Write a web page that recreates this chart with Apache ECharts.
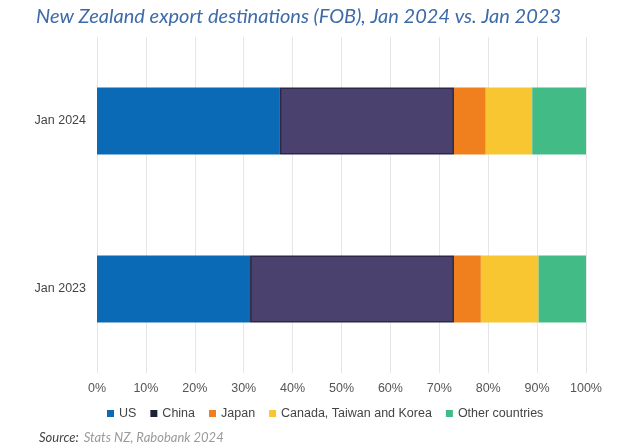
<!DOCTYPE html>
<html lang="en">
<head>
    <meta charset="UTF-8">
    <title>NZ export destinations</title>
    <script src="https://cdn.jsdelivr.net/npm/echarts@6/dist/echarts.min.js"></script>
    <style>
        body { margin: 0; background: #fff; }
    </style>
</head>
<body>
    <div id="main" style="width: 626px;height:448px;"></div>
    <script type="text/javascript">
        var categories = ['Jan 2024', 'Jan 2023'];
        var seriesNames = ['US', 'China', 'Japan', 'Canada, Taiwan and Korea', 'Other countries'];
        var us = [37.4, 31.3];
        var china = [35.6, 41.7];
        var japan = [6.5, 5.5];
        var ctk = [9.5, 11.8];
        var other = [11.0, 9.7];
        var xTicks = [0, 10, 20, 30, 40, 50, 60, 70, 80, 90, 100];

        var colors = ['#0b6ab5', '#4b416f', '#f0801e', '#f7c630', '#43bb86'];
        var values = [us, china, japan, ctk, other];

        var myChart = echarts.init(document.getElementById('main'));

        var series = seriesNames.map(function (name, i) {
            var s = {
                name: name,
                type: 'bar',
                stack: 'total',
                barWidth: '40%',
                data: values[i],
                itemStyle: { color: colors[i] }
            };
            // china bars have a dark outline in the original
            if (name === 'China') {
                s.itemStyle.borderColor = '#2a2844';
                s.itemStyle.borderWidth = 1.5;
            }
            return s;
        });

        var option = {
            animation: false,
            title: [
                {
                    text: 'New Zealand export destinations (FOB), Jan 2024 vs. Jan 2023',
                    left: 31,
                    top: 2,
                    textStyle: {
                        fontFamily: 'Lato',
                        fontStyle: 'italic',
                        fontWeight: 'normal',
                        fontSize: 20,
                        color: '#3d6aa8'
                    }
                },
                {
                    text: '{a|Source:} {b|Stats NZ, Rabobank 2024}',
                    left: 34,
                    top: 424,
                    textStyle: {
                        fontWeight: 'normal',
                        rich: {
                            a: { fontFamily: 'Lato', fontStyle: 'italic', fontWeight: 'normal', fontSize: 13, color: '#444' },
                            b: { fontFamily: 'Lato', fontStyle: 'italic', fontWeight: 'normal', fontSize: 13, color: '#9a9a9a' }
                        }
                    }
                }
            ],
            legend: {
                left: 102,
                top: 402,
                icon: 'rect',
                itemWidth: 7,
                itemHeight: 7,
                itemGap: 14,
                textStyle: { fontFamily: 'Liberation Sans', fontSize: 12.5, color: '#444' },
                data: seriesNames.map(function (n) {
                    if (n === 'China') return { name: n, itemStyle: { color: '#1c2238', borderWidth: 0 } };
                    return { name: n };
                })
            },
            grid: {
                left: 97,
                right: 40,
                top: 37,
                bottom: 75
            },
            xAxis: {
                type: 'value',
                min: xTicks[0],
                max: xTicks[xTicks.length - 1],
                interval: 10,
                axisLine: { show: false },
                axisTick: { show: false },
                axisLabel: {
                    formatter: '{value}%',
                    fontFamily: 'Liberation Sans',
                    fontSize: 12.5,
                    color: '#555',
                    margin: 9
                },
                splitLine: { lineStyle: { color: '#e6e6e6' } }
            },
            yAxis: {
                type: 'category',
                inverse: true,
                data: categories,
                axisLine: { show: false },
                axisTick: { show: false },
                axisLabel: {
                    fontFamily: 'Liberation Sans',
                    fontSize: 12.5,
                    color: '#444',
                    margin: 11
                }
            },
            series: series
        };
        myChart.setOption(option);
    </script>
</body>
</html>
